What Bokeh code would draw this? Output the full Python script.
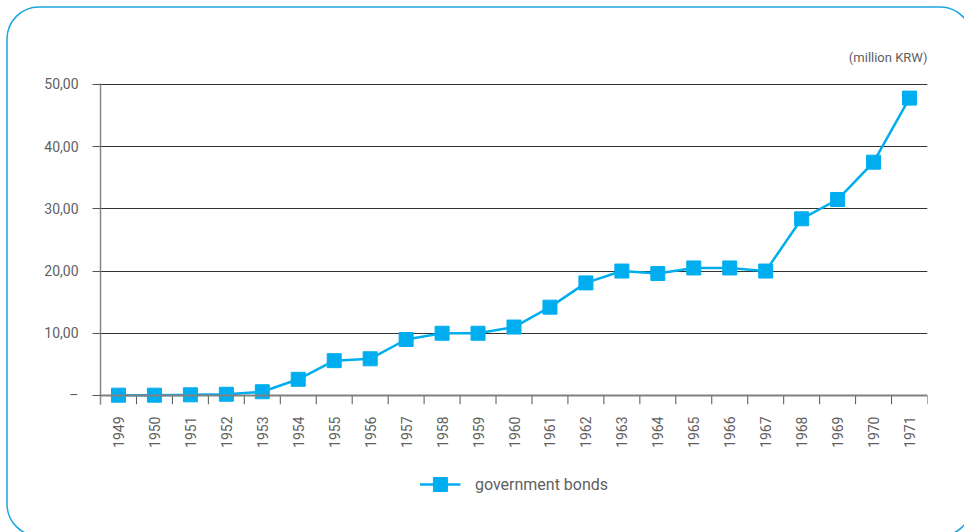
import math
from urllib.parse import quote
from bokeh.plotting import figure
from bokeh.layouts import column
from bokeh.models import (FactorRange, Range1d, FixedTicker, Span, Legend, LegendItem,
                          Title, ColumnDataSource)
from bokeh.embed import file_html
from bokeh.resources import INLINE

# ---- data ----
years = ["1949", "1950", "1951", "1952", "1953", "1954", "1955", "1956", "1957", "1958",
         "1959", "1960", "1961", "1962", "1963", "1964", "1965", "1966", "1967", "1968",
         "1969", "1970", "1971"]
bonds = [0.05, 0.05, 0.1, 0.2, 0.6, 2.6, 5.6, 5.9, 9.0, 10.0,
         10.0, 11.0, 14.2, 18.1, 20.0, 19.6, 20.5, 20.5, 20.0, 28.4,
         31.5, 37.5, 47.8]
y_ticks = [0, 10, 20, 30, 40, 50]
y_tick_labels = ["–", "10,00", "20,00", "30,00", "40,00", "50,00"]
series_name = "government bonds"
unit_text = "(million KRW)"

BLUE = "#00AEEF"
TEXT = "#5f5f5f"
FONT = "Roboto"

p = figure(width=964, height=460, output_backend="svg", toolbar_location=None,
           x_range=FactorRange(*years), y_range=Range1d(-1.45, 50.15),
           min_border_left=100, min_border_right=37, min_border_top=83, min_border_bottom=56)
p.outline_line_color = None
p.background_fill_alpha = 0
p.border_fill_alpha = 0

# y axis
p.yaxis.ticker = FixedTicker(ticks=y_ticks)
p.yaxis.major_label_overrides = {t: l for t, l in zip(y_ticks, y_tick_labels)}
p.yaxis.axis_line_color = "#888888"
p.yaxis.axis_line_width = 1.5
p.yaxis.major_tick_line_color = "#555555"
p.yaxis.major_tick_out = 8
p.yaxis.major_tick_in = 0
p.yaxis.minor_tick_line_color = None
p.yaxis.major_label_standoff = 14
p.yaxis.major_label_text_font = FONT
p.yaxis.major_label_text_font_size = "14px"
p.yaxis.major_label_text_color = TEXT

p.ygrid.ticker = FixedTicker(ticks=[t for t in y_ticks if t != 0])
p.ygrid.grid_line_color = "#333333"
p.ygrid.grid_line_width = 1
p.xgrid.grid_line_color = None

# x axis
p.xaxis.axis_line_color = None
p.xaxis.major_tick_line_color = None
p.xaxis.minor_tick_line_color = None
p.xaxis.major_label_orientation = math.pi / 2
p.xaxis.major_label_standoff = 6
p.xaxis.major_label_text_font = FONT
p.xaxis.major_label_text_font_size = "14px"
p.xaxis.major_label_text_color = TEXT

# baseline and category boundary ticks
p.add_layout(Span(location=0, dimension="width", line_color="#808080", line_width=2))
bounds = list(range(len(years) + 1))
p.segment(x0=bounds, y0=[0] * len(bounds), x1=bounds, y1=[p.y_range.start] * len(bounds),
          line_color="#555555", line_width=1)

src = ColumnDataSource(dict(x=years, y=bonds))
p.line("x", "y", source=src, line_color=BLUE, line_width=2.5)
p.scatter("x", "y", source=src, marker="square", size=14, fill_color=BLUE, line_color=BLUE)

p.add_layout(Title(text=unit_text, align="right", text_font=FONT, text_font_size="13px",
                   text_font_style="normal", text_color=TEXT, standoff=37), "above")

# legend strip below the chart (its renderers hold one point kept outside the view)
lg = figure(width=964, height=72, output_backend="svg", toolbar_location=None,
            x_range=Range1d(0, 1), y_range=Range1d(0, 1),
            min_border_left=42, min_border_right=0, min_border_top=0, min_border_bottom=24,
            x_axis_type=None, y_axis_type=None)
lg.outline_line_color = None
lg.background_fill_alpha = 0
lg.border_fill_alpha = 0
lg.grid.visible = False
l_ln = lg.line(x=[5, 6], y=[5, 5], line_color=BLUE, line_width=2.5)
l_sc = lg.scatter(x=[5], y=[5], marker="square", size=14, fill_color=BLUE, line_color=BLUE)
legend = Legend(items=[LegendItem(label=series_name, renderers=[l_ln, l_sc])],
                location="center", orientation="horizontal",
                glyph_width=41, glyph_height=35, label_standoff=15, padding=5, margin=0,
                border_line_color=None, background_fill_alpha=0,
                label_text_font=FONT, label_text_font_size="16px", label_text_color=TEXT)
lg.add_layout(legend, "center")

layout = column(p, lg, spacing=0)

# rounded frame drawn as a background of the page element
svg = ('<svg xmlns="http://www.w3.org/2000/svg" width="964" height="532">'
       '<rect x="7" y="7" width="965" height="529" rx="32" ry="32" fill="white" '
       'stroke="#1AA7E0" stroke-width="1.5"/></svg>')
layout.styles = {"background-image": "url(\"data:image/svg+xml;utf8," + quote(svg) + "\")",
                 "background-repeat": "no-repeat"}

open("out.html", "w").write(file_html(layout, INLINE))
